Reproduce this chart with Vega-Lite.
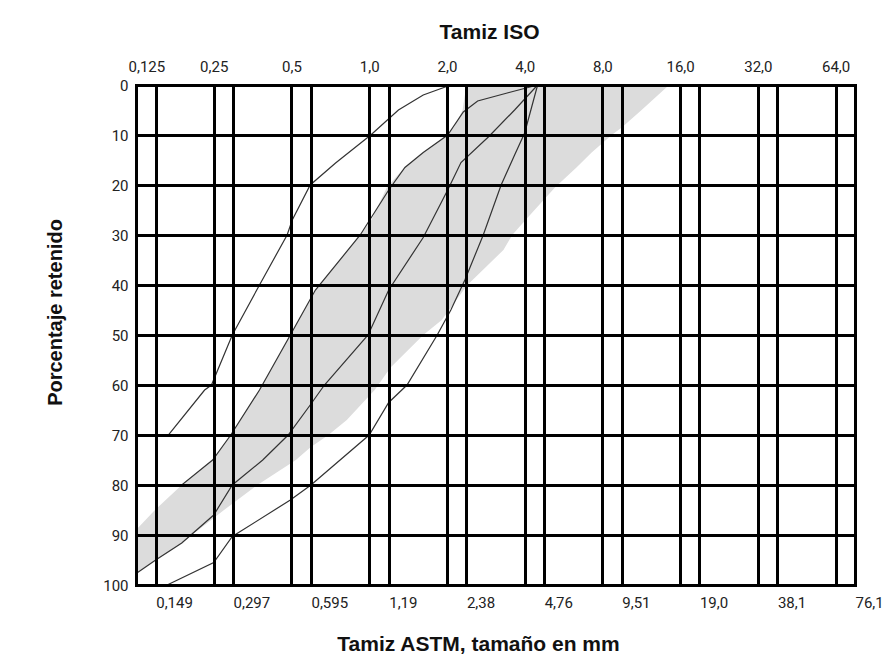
{
  "$schema": "https://vega.github.io/schema/vega-lite/v6.json",
  "autosize": "none",
  "width": 719,
  "height": 500,
  "padding": {"left": 136, "top": 85, "right": 35, "bottom": 77},
  "background": "white",
  "config": {
    "view": {"stroke": null},
    "axis": {"labelFont": "Roboto", "labelFontSize": 15, "labelColor": "#222", "titleColor": "#111", "titleFont": "Liberation Sans", "titleFontWeight": "bold"}
  },
  "datasets": {
    "band": [
      {"p": 0, "lo": 2.38, "hi": 14.5},
      {"p": 5, "lo": 2.3, "hi": 11.35},
      {"p": 8.5, "lo": 2.13, "hi": 9.51},
      {"p": 10, "lo": 2.01, "hi": 8.69},
      {"p": 13.5, "lo": 1.62, "hi": 7.27},
      {"p": 16.5, "lo": 1.37, "hi": 6.35},
      {"p": 20.5, "lo": 1.17, "hi": 5.24},
      {"p": 27, "lo": 1.02, "hi": 4.03},
      {"p": 30, "lo": 0.923, "hi": 3.58},
      {"p": 33, "lo": 0.827, "hi": 3.31},
      {"p": 40, "lo": 0.638, "hi": 2.4},
      {"p": 47, "lo": 0.532, "hi": 1.91},
      {"p": 50, "lo": 0.495, "hi": 1.62},
      {"p": 56.5, "lo": 0.421, "hi": 1.21},
      {"p": 61, "lo": 0.376, "hi": 1.05},
      {"p": 67, "lo": 0.315, "hi": 0.819},
      {"p": 70, "lo": 0.291, "hi": 0.695},
      {"p": 72.5, "lo": 0.269, "hi": 0.591},
      {"p": 75, "lo": 0.2475, "hi": 0.52},
      {"p": 80, "lo": 0.188, "hi": 0.369},
      {"p": 85, "lo": 0.148, "hi": 0.274},
      {"p": 89, "lo": 0.125, "hi": 0.218},
      {"p": 90, "lo": 0.125, "hi": 0.204},
      {"p": 91.6, "lo": 0.125, "hi": 0.188},
      {"p": 95, "lo": 0.125, "hi": 0.149},
      {"p": 97.6, "lo": 0.125, "hi": 0.126}
    ],
    "curves": [
      {"c": "A", "s": 0.16, "p": 70}, {"c": "A", "s": 0.167, "p": 70}, {"c": "A", "s": 0.2305, "p": 61}, {"c": "A", "s": 0.245, "p": 60},
      {"c": "A", "s": 0.295, "p": 50}, {"c": "A", "s": 0.376, "p": 40}, {"c": "A", "s": 0.481, "p": 30},
      {"c": "A", "s": 0.5035, "p": 27}, {"c": "A", "s": 0.591, "p": 20}, {"c": "A", "s": 0.741, "p": 15.6},
      {"c": "A", "s": 1.014, "p": 10}, {"c": "A", "s": 1.298, "p": 5}, {"c": "A", "s": 1.619, "p": 2},
      {"c": "A", "s": 2.07, "p": 0},
      {"c": "B", "s": 0.178, "p": 80}, {"c": "B", "s": 0.188, "p": 80}, {"c": "B", "s": 0.2475, "p": 75}, {"c": "B", "s": 0.291, "p": 70},
      {"c": "B", "s": 0.376, "p": 61}, {"c": "B", "s": 0.495, "p": 50}, {"c": "B", "s": 0.619, "p": 41},
      {"c": "B", "s": 0.923, "p": 30}, {"c": "B", "s": 1.19, "p": 21}, {"c": "B", "s": 1.375, "p": 16.5},
      {"c": "B", "s": 1.619, "p": 13.5}, {"c": "B", "s": 2.014, "p": 10}, {"c": "B", "s": 2.315, "p": 5.4},
      {"c": "B", "s": 2.63, "p": 3.2}, {"c": "B", "s": 3.48, "p": 1.5}, {"c": "B", "s": 4.49, "p": 0},
      {"c": "C", "s": 0.126, "p": 97.6}, {"c": "C", "s": 0.149, "p": 95}, {"c": "C", "s": 0.188, "p": 91.6},
      {"c": "C", "s": 0.25, "p": 86}, {"c": "C", "s": 0.295, "p": 80}, {"c": "C", "s": 0.387, "p": 75},
      {"c": "C", "s": 0.4855, "p": 70}, {"c": "C", "s": 0.591, "p": 64}, {"c": "C", "s": 0.671, "p": 60},
      {"c": "C", "s": 0.99, "p": 50}, {"c": "C", "s": 1.19, "p": 41}, {"c": "C", "s": 1.619, "p": 30.5},
      {"c": "C", "s": 2.014, "p": 21}, {"c": "C", "s": 2.267, "p": 15.5}, {"c": "C", "s": 2.906, "p": 10.3},
      {"c": "C", "s": 3.657, "p": 5}, {"c": "C", "s": 4.49, "p": 0},
      {"c": "D", "s": 0.165, "p": 100}, {"c": "D", "s": 0.25, "p": 95.5}, {"c": "D", "s": 0.295, "p": 90.3},
      {"c": "D", "s": 0.495, "p": 83}, {"c": "D", "s": 0.595, "p": 80}, {"c": "D", "s": 1.0, "p": 70},
      {"c": "D", "s": 1.19, "p": 63.5}, {"c": "D", "s": 1.401, "p": 60}, {"c": "D", "s": 1.834, "p": 50},
      {"c": "D", "s": 2.071, "p": 45}, {"c": "D", "s": 2.347, "p": 39}, {"c": "D", "s": 2.765, "p": 30},
      {"c": "D", "s": 3.243, "p": 20}, {"c": "D", "s": 3.657, "p": 14}, {"c": "D", "s": 4.0, "p": 9.6},
      {"c": "D", "s": 4.49, "p": 0}
    ]
  },
  "resolve": {"axis": {"x": "independent", "y": "independent"}},
  "layer": [
    {
      "data": {"name": "band"},
      "mark": {"type": "area", "orient": "horizontal", "color": "#dcdcdc"},
      "encoding": {
        "y": {
          "field": "p", "type": "quantitative",
          "scale": {"domain": [0, 100], "reverse": true, "nice": false, "zero": false},
          "axis": {
            "orient": "left", "values": [0, 10, 20, 30, 40, 50, 60, 70, 80, 90, 100],
            "grid": true, "gridColor": "black", "gridWidth": 3, "gridOpacity": 1,
            "ticks": false, "domain": true, "domainColor": "black", "domainWidth": 3, "domainCap": "square",
            "labelPadding": 8, "zindex": 1,
            "title": "Porcentaje retenido", "titleFontSize": 20,
            "titleX": -81, "titleY": 227, "titleBaseline": "middle", "titleAngle": -90
          }
        },
        "x": {
          "field": "lo", "type": "quantitative",
          "scale": {"type": "log", "domain": [0.125, 76.1], "nice": false},
          "axis": {
            "orient": "bottom",
            "values": [0.149, 0.297, 0.595, 1.19, 2.38, 4.76, 9.51, 19, 38.1, 76.1],
            "labelExpr": "replace(format(datum.value, datum.value < 1 ? '.3f' : datum.value < 10 ? '.2f' : '.1f'), '.', ',')",
            "grid": true, "gridColor": "black", "gridWidth": 3, "gridOpacity": 1,
            "ticks": false, "domain": true, "domainColor": "black", "domainWidth": 3, "domainCap": "square",
            "labelAlign": "left", "labelPadding": 10, "labelFlush": false, "zindex": 1,
            "title": "Tamiz ASTM, tamaño en mm", "titleFontSize": 21,
            "titleX": 342, "titleY": 59, "titleBaseline": "middle"
          }
        },
        "x2": {"field": "hi"}
      }
    },
    {
      "data": {"name": "curves"},
      "mark": {"type": "line", "color": "#333333", "strokeWidth": 1.2},
      "encoding": {
        "x": {
          "field": "s", "type": "quantitative",
          "scale": {"type": "log", "domain": [0.125, 76.1], "nice": false},
          "axis": {
            "orient": "top",
            "values": [0.125, 0.25, 0.5, 1, 2, 4, 8, 16, 32, 64],
            "labelExpr": "replace(format(datum.value, datum.value < 1 ? '~g' : '.1f'), '.', ',')",
            "grid": true, "gridColor": "black", "gridWidth": 3, "gridOpacity": 1,
            "ticks": false, "domain": true, "domainColor": "black", "domainWidth": 3, "domainCap": "square",
            "labelPadding": 11, "labelFlush": true, "labelFlushOffset": 8, "zindex": 1,
            "title": "Tamiz ISO", "titleFontSize": 21,
            "titleX": 353, "titleY": -53, "titleBaseline": "middle"
          }
        },
        "y": {
          "field": "p", "type": "quantitative",
          "scale": {"domain": [0, 100], "reverse": true, "nice": false, "zero": false},
          "axis": {
            "orient": "right", "labels": false, "ticks": false, "grid": false,
            "domain": true, "domainColor": "black", "domainWidth": 3, "domainCap": "square",
            "title": null, "zindex": 1
          }
        },
        "detail": {"field": "c", "type": "nominal"}
      }
    }
  ]
}
